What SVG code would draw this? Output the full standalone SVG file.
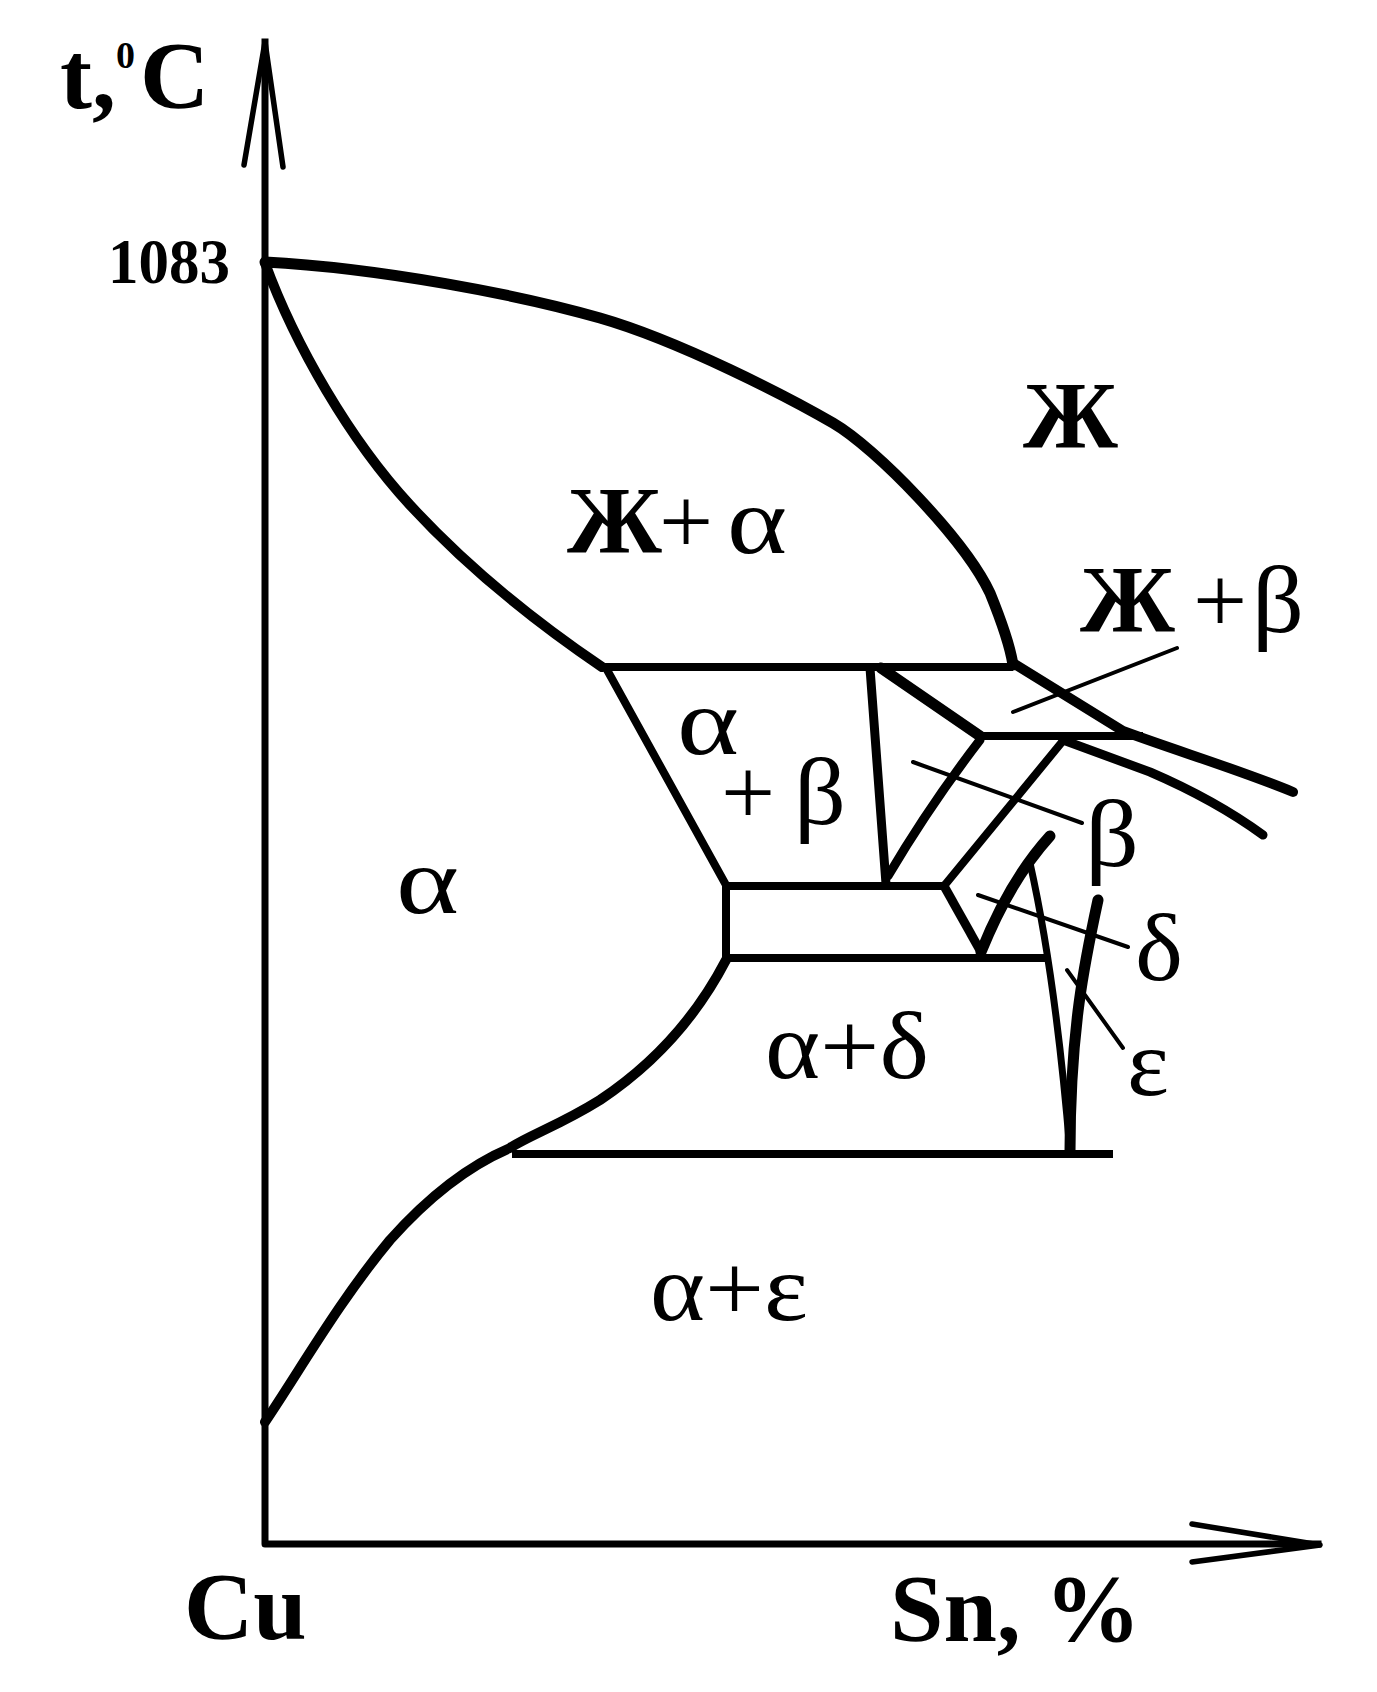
<svg xmlns="http://www.w3.org/2000/svg" width="1377" height="1692" viewBox="0 0 1377 1692">
<style>
  .ln { fill: none; stroke: #000; stroke-linejoin: round; stroke-linecap: round; }
  .thk { stroke-width: 11; }
  .sol { stroke-width: 10; }
  .med { stroke-width: 8; }
  .hz { stroke-width: 8; stroke-linecap: butt; }
  .thn { stroke-width: 4; }
  .ax { stroke-width: 7; stroke-linecap: square; }
  .arr { stroke-width: 5.5; }
  text { font-family: "Liberation Serif", "Times New Roman", serif; fill: #000; }
  .b { font-weight: bold; }
  .lbl { font-size: 96px; }
</style>
<rect width="1377" height="1692" fill="#fff"/>

<g id="axes">
  <path class="ln ax" d="M265,42 L265,1544 L1318,1544"/>
  <path class="ln arr" d="M244,165 L265,42 L283,167"/>
  <path class="ln arr" d="M1192,1524 L1320,1545 L1192,1562"/>
</g>

<g id="lines">
  <!-- liquidus -->
  <path class="ln thk" d="M265,262 C380,268 520,295 600,318 C680,341 790,398 833,423 C876,448 965,540 990,593 C1001,620 1010,645 1013,665"/>
  <path class="ln thk" style="stroke-width:10" d="M1013,663 L1123,731 C1180,752 1240,770 1293,792"/>
  <!-- solidus -->
  <path class="ln sol" d="M265,263 C295,345 350,440 410,505 C470,570 540,625 602,667"/>
  <!-- peritectic horizontal -->
  <path class="ln hz" d="M600,667 L1013,667"/>
  <!-- alpha+beta left boundary -->
  <path class="ln med" d="M606,668 L726,885 L726,960"/>
  <path class="ln hz" d="M726,886 L945,886"/>
  <path class="ln hz" d="M726,958 L1047,958"/>
  <!-- lower alpha boundary -->
  <path class="ln sol" d="M726,960 C700,1010 660,1060 600,1100 C560,1125 530,1135 510,1148 C470,1165 430,1195 390,1240 C340,1300 300,1370 265,1422"/>
  <path class="ln hz" d="M512,1154 L1113,1154"/>
  <!-- beta region -->
  <path class="ln med" style="stroke-width:9" d="M870,668 L886,884"/>
  <path class="ln thk" d="M881,668 L980,736"/>
  <path class="ln hz" d="M978,736 L1143,736"/>
  <path class="ln med" style="stroke-width:9" d="M1063,740 L1150,772 Q1215,800 1263,835"/>
  <path class="ln med" style="stroke-width:9" d="M980,740 Q930,805 888,876"/>
  <path class="ln med" d="M1062,742 L944,886"/>
  <!-- delta region -->
  <path class="ln med" style="stroke-width:9" d="M944,886 L981,952"/>
  <path class="ln thk" d="M981,952 Q1010,880 1050,836"/>
  <path class="ln" style="stroke-width:7" d="M1030,863 C1045,930 1060,1030 1070,1152"/>
  <path class="ln thk" d="M1098,900 C1085,960 1070,1030 1070,1152"/>
  <!-- leaders -->
  <path class="ln thn" d="M1177,648 L1013,712"/>
  <path class="ln thn" d="M913,762 L1082,823"/>
  <path class="ln thn" d="M978,895 L1128,947"/>
  <path class="ln thn" d="M1067,970 L1123,1048"/>
</g>

<g id="axis-labels">
  <text class="b" font-size="96" x="60" y="108">t,<tspan x="116" y="68" font-size="38">0</tspan><tspan x="140" y="108">C</tspan></text>
  <text class="b" font-size="64" x="108" y="283" textLength="122" lengthAdjust="spacingAndGlyphs">1083</text>
  <text class="b" font-size="96" x="184" y="1639">Cu</text>
  <text class="b" font-size="96" x="890" y="1641">Sn, %</text>
</g>

<g id="region-labels">
  <text class="lbl" x="567" y="553"><tspan class="b">Ж</tspan><tspan x="659">+</tspan><tspan x="727" textLength="60" lengthAdjust="spacingAndGlyphs">α</tspan></text>
  <text class="lbl b" x="1023" y="448">Ж</text>
  <text class="lbl" x="1080" y="632"><tspan class="b">Ж</tspan><tspan x="1193">+</tspan><tspan x="1252" textLength="52" lengthAdjust="spacingAndGlyphs">β</tspan></text>
  <text class="lbl" x="677" y="754" textLength="62" lengthAdjust="spacingAndGlyphs">α</text>
  <text class="lbl" x="721" y="824">+<tspan x="794" textLength="52" lengthAdjust="spacingAndGlyphs">β</tspan></text>
  <text class="lbl" x="396" y="913" textLength="63" lengthAdjust="spacingAndGlyphs">α</text>
  <text class="lbl" x="1085" y="866" textLength="54" lengthAdjust="spacingAndGlyphs">β</text>
  <text class="lbl" x="1135" y="980" textLength="48" lengthAdjust="spacingAndGlyphs">δ</text>
  <text class="lbl" x="1127" y="1095" textLength="42" lengthAdjust="spacingAndGlyphs">ε</text>
  <text class="lbl" x="765" y="1078" textLength="164" lengthAdjust="spacingAndGlyphs">α+δ</text>
  <text class="lbl" x="650" y="1320" textLength="158" lengthAdjust="spacingAndGlyphs">α+ε</text>
</g>
</svg>
